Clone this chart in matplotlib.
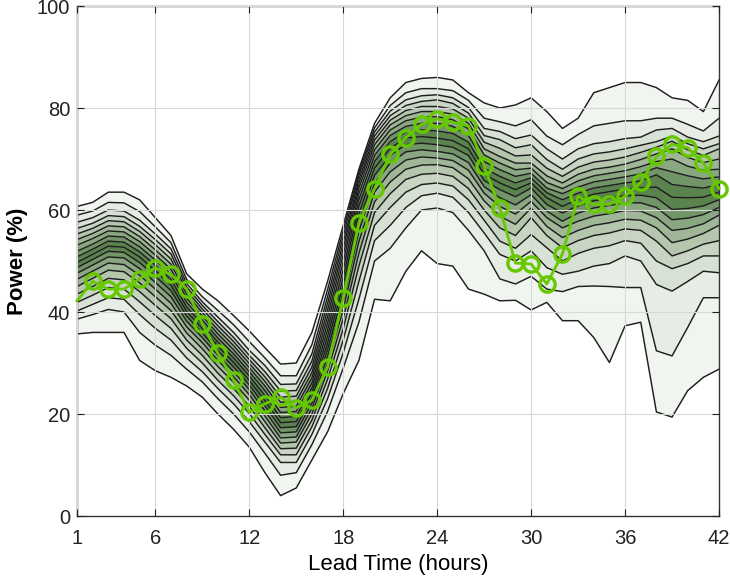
import matplotlib as mpl
mpl.use('Agg')

import matplotlib.pyplot as plt
import numpy as np

# lead times (hours)
lead_hours = list(range(1, 43))

# quantile levels of the fan lines
quantile_levels = [5, 10, 15, 20, 25, 30, 35, 40, 45, 50, 55, 60, 65, 70, 75, 80, 85, 90, 95]

# forecast quantiles, one row per lead hour (q05 ... q95), power in %
fan_rows = [
  [35.7, 38.6, 40.2, 41.9, 43.5, 45.0, 46.4, 47.6, 48.7, 49.7, 50.8, 51.9, 53.1, 54.2, 55.3, 56.4, 57.6, 59.0, 60.7],
  [36.0, 39.5, 41.5, 43.3, 45.0, 46.6, 48.0, 49.2, 50.3, 51.3, 52.3, 53.3, 54.4, 55.4, 56.4, 57.4, 58.5, 59.8, 61.5],
  [36.0, 40.5, 42.8, 44.8, 46.6, 48.2, 49.6, 50.8, 51.9, 52.9, 53.9, 54.9, 55.9, 56.9, 57.9, 58.9, 60.0, 61.5, 63.5],
  [36.0, 40.0, 42.5, 44.5, 46.3, 47.9, 49.3, 50.6, 51.7, 52.7, 53.7, 54.7, 55.7, 56.7, 57.7, 58.7, 59.8, 61.4, 63.5],
  [30.5, 36.0, 39.5, 42.0, 44.0, 45.7, 47.2, 48.5, 49.7, 50.8, 51.8, 52.8, 53.8, 54.8, 55.8, 56.8, 58.0, 59.7, 62.0],
  [28.5, 33.5, 36.8, 39.3, 41.3, 43.0, 44.5, 45.8, 47.0, 48.1, 49.2, 50.2, 51.2, 52.2, 53.2, 54.2, 55.3, 56.7, 58.5],
  [27.2, 31.5, 34.5, 36.8, 38.7, 40.3, 41.7, 43.0, 44.2, 45.3, 46.4, 47.4, 48.4, 49.4, 50.4, 51.4, 52.4, 53.6, 55.0],
  [25.5, 28.8, 31.0, 32.9, 34.5, 35.9, 37.1, 38.2, 39.2, 40.1, 41.0, 41.9, 42.7, 43.5, 44.2, 44.9, 45.6, 46.4, 47.5],
  [23.3, 26.3, 28.3, 30.0, 31.5, 32.8, 34.0, 35.0, 35.9, 36.8, 37.6, 38.4, 39.2, 39.9, 40.6, 41.3, 42.0, 43.0, 44.5],
  [20.0, 23.0, 25.0, 26.6, 28.0, 29.3, 30.5, 31.5, 32.4, 33.3, 34.1, 34.9, 35.7, 36.5, 37.3, 38.1, 39.0, 40.3, 42.2],
  [17.0, 20.0, 22.0, 23.6, 25.0, 26.2, 27.3, 28.3, 29.2, 30.1, 31.0, 31.8, 32.6, 33.4, 34.2, 35.0, 36.0, 37.5, 39.3],
  [13.5, 16.5, 18.5, 20.1, 21.5, 22.7, 23.8, 24.8, 25.7, 26.6, 27.5, 28.3, 29.1, 29.9, 30.7, 31.5, 32.5, 34.2, 36.3],
  [8.5, 12.3, 14.5, 16.0, 17.3, 18.5, 19.6, 20.6, 21.6, 22.6, 23.6, 24.6, 25.5, 26.4, 27.3, 28.3, 29.5, 31.0, 33.0],
  [4.0, 8.0, 10.5, 12.0, 13.2, 14.3, 15.3, 16.3, 17.3, 18.3, 19.3, 20.3, 21.3, 22.3, 23.3, 24.5, 25.8, 27.5, 29.8],
  [5.5, 8.5, 10.5, 12.0, 13.3, 14.5, 15.5, 16.5, 17.5, 18.5, 19.5, 20.5, 21.5, 22.5, 23.5, 24.6, 25.9, 27.5, 30.0],
  [11.0, 14.0, 16.0, 17.5, 18.8, 20.0, 21.1, 22.1, 23.1, 24.1, 25.1, 26.1, 27.1, 28.1, 29.2, 30.4, 31.8, 33.6, 36.0],
  [16.5, 20.5, 23.0, 25.0, 26.8, 28.4, 29.9, 31.3, 32.6, 33.9, 35.2, 36.5, 37.8, 39.1, 40.4, 41.7, 43.0, 44.4, 46.0],
  [24.0, 29.0, 32.0, 34.5, 36.7, 38.7, 40.5, 42.2, 43.8, 45.3, 46.8, 48.3, 49.8, 51.2, 52.5, 53.7, 54.9, 56.0, 57.0],
  [30.5, 38.0, 42.5, 46.0, 49.0, 51.5, 53.8, 55.8, 57.6, 59.2, 60.7, 62.0, 63.2, 64.3, 65.2, 66.0, 66.8, 67.4, 68.0],
  [42.5, 50.0, 54.0, 57.0, 59.5, 61.6, 63.5, 65.2, 66.8, 68.2, 69.5, 70.7, 71.8, 72.8, 73.7, 74.5, 75.3, 76.1, 77.0],
  [42.2, 52.5, 57.0, 60.5, 63.2, 65.5, 67.5, 69.2, 70.7, 72.1, 73.4, 74.6, 75.7, 76.7, 77.6, 78.5, 79.4, 80.5, 82.0],
  [48.0, 56.5, 60.5, 63.5, 66.0, 68.0, 69.8, 71.4, 72.8, 74.1, 75.3, 76.4, 77.5, 78.5, 79.5, 80.5, 81.6, 83.0, 85.0],
  [52.0, 60.0, 62.8, 65.0, 67.0, 68.8, 70.4, 71.8, 73.1, 74.4, 75.7, 77.0, 78.2, 79.3, 80.3, 81.3, 82.4, 83.8, 85.8],
  [49.5, 60.4, 63.3, 65.3, 67.2, 68.9, 70.2, 71.5, 72.8, 74.1, 75.5, 77.0, 78.3, 79.3, 80.3, 81.6, 82.6, 83.8, 86.0],
  [49.0, 59.5, 62.5, 64.7, 66.6, 68.3, 69.7, 71.0, 72.3, 73.6, 75.0, 76.4, 77.7, 78.8, 79.8, 80.9, 82.0, 83.4, 85.5],
  [44.5, 56.0, 59.5, 62.0, 64.2, 66.1, 67.8, 69.3, 70.7, 72.0, 73.3, 74.6, 75.9, 77.0, 78.0, 79.0, 80.1, 81.5, 83.0],
  [43.5, 52.0, 55.5, 58.0, 60.0, 61.8, 63.3, 64.6, 65.8, 67.0, 68.2, 69.5, 70.8, 72.0, 73.3, 74.6, 76.0, 78.0, 81.0],
  [42.2, 46.5, 51.3, 53.9, 56.5, 58.8, 60.7, 62.4, 64.0, 65.3, 66.6, 67.9, 69.2, 70.5, 72.1, 73.8, 75.4, 77.3, 80.0],
  [42.3, 45.5, 50.0, 52.5, 55.0, 57.2, 59.2, 61.0, 62.6, 64.0, 65.3, 66.6, 67.9, 69.2, 70.6, 72.2, 74.0, 76.5, 80.6],
  [40.4, 47.0, 52.0, 55.2, 58.5, 60.4, 61.7, 63.0, 64.3, 65.3, 66.3, 67.2, 68.2, 69.2, 70.8, 72.8, 74.7, 77.7, 82.0],
  [41.9, 44.5, 48.7, 52.6, 55.0, 56.8, 58.5, 59.8, 61.1, 62.4, 63.4, 64.3, 65.4, 66.7, 68.2, 69.9, 72.0, 74.5, 79.3],
  [38.3, 44.0, 47.4, 50.0, 52.6, 54.6, 56.5, 57.8, 59.4, 60.7, 62.0, 63.2, 64.2, 65.3, 66.6, 68.0, 70.0, 72.8, 76.0],
  [38.3, 45.0, 48.0, 51.5, 54.0, 56.0, 57.8, 59.4, 60.8, 62.1, 63.3, 64.5, 65.7, 67.0, 68.4, 70.0, 72.0, 74.8, 78.0],
  [35.0, 45.1, 49.0, 52.5, 55.0, 57.0, 58.8, 60.4, 61.8, 63.1, 64.3, 65.5, 66.7, 68.0, 69.4, 71.0, 73.0, 76.5, 83.0],
  [30.1, 45.0, 49.5, 53.0, 55.5, 57.5, 59.3, 60.9, 62.3, 63.6, 64.8, 66.0, 67.2, 68.4, 69.8, 71.4, 73.4, 77.0, 84.0],
  [37.3, 44.8, 51.0, 54.0, 56.3, 58.2, 59.9, 61.4, 62.8, 64.1, 65.3, 66.5, 67.7, 69.0, 70.4, 72.0, 74.0, 77.5, 85.0],
  [38.0, 44.8, 50.0, 53.5, 56.0, 58.0, 59.8, 61.4, 62.9, 64.3, 65.7, 67.1, 68.5, 69.9, 71.3, 72.7, 74.3, 77.5, 85.0],
  [20.4, 32.4, 45.4, 50.0, 53.9, 56.5, 58.5, 60.5, 62.4, 64.5, 66.9, 68.3, 69.5, 71.0, 72.3, 73.4, 75.7, 78.0, 84.0],
  [19.4, 31.4, 44.1, 48.5, 51.0, 53.6, 56.0, 58.1, 60.1, 62.5, 65.0, 67.5, 70.0, 72.0, 73.5, 74.5, 76.0, 78.0, 82.0],
  [24.6, 37.0, 46.0, 49.5, 52.0, 54.3, 56.4, 58.4, 60.3, 62.4, 64.6, 66.7, 68.6, 70.3, 71.8, 73.0, 74.3, 76.8, 81.5],
  [27.2, 42.8, 48.0, 51.0, 53.3, 55.4, 57.3, 59.1, 60.8, 62.5, 64.3, 66.1, 67.8, 69.3, 70.7, 72.0, 73.4, 75.5, 79.3],
  [28.8, 42.8, 47.7, 51.0, 54.0, 57.0, 59.0, 60.5, 62.0, 63.5, 65.0, 66.5, 68.0, 70.0, 72.0, 73.0, 74.5, 78.0, 85.5],
]

# measured power (%)
observed = [42.2, 46.0, 44.5, 44.5, 46.5, 48.7, 47.4, 44.5, 37.7, 31.9,
            26.6, 20.3, 22.0, 23.3, 21.2, 22.7, 29.2, 42.8, 57.5, 64.2,
            70.9, 74.2, 76.8, 77.9, 77.2, 76.5, 68.6, 60.4, 49.6, 49.4,
            45.5, 51.4, 62.7, 61.1, 61.1, 62.7, 65.4, 70.5, 72.9, 72.2,
            69.2, 64.2]

x_ticks = [1, 6, 12, 18, 24, 30, 36, 42]
y_ticks = [0, 20, 40, 60, 80, 100]

light = np.array(mpl.colors.to_rgb("#f1f5ef"))
dark = np.array(mpl.colors.to_rgb("#4e7a40"))
obs_color = "#66c800"

plt.rcParams['font.family'] = ['Liberation Sans', 'DejaVu Sans']

fig = plt.figure(figsize=(7.3, 5.84), dpi=100)
ax = fig.add_axes([0.1055, 0.1164, 0.8795, 0.8733])

q = np.array(fan_rows).T
nb = len(quantile_levels) - 1
half = (nb - 1) / 2.0
for i in range(nb):
  level = 1 - abs(i - half) / half
  c = light + (dark - light) * level ** 1.3
  ax.fill_between(lead_hours, q[i], q[i + 1], color=c, linewidth=0, zorder=1)

for line in q:
  ax.plot(lead_hours, line, color="#1e1e1e", linewidth=1.05, zorder=2)

ax.plot(lead_hours, observed, color=obs_color, linewidth=2.0, marker='o',
        markersize=11, markerfacecolor='none', markeredgewidth=2.4,
        markevery=list(range(1, len(observed))), zorder=4, clip_on=False)

ax.set_xlim(1, 42)
ax.set_ylim(0, 100)
ax.set_xticks(x_ticks)
ax.set_yticks(y_ticks)
ax.grid(True, color="#d8d8d8", linewidth=0.8, zorder=3)
ax.set_axisbelow(False)
ax.tick_params(direction='in', top=True, right=True, length=5, width=0.8,
               labelsize=14.5, colors="#222222")
ax.tick_params(axis='x', pad=9)
ax.tick_params(axis='y', pad=5)
for s in ax.spines.values():
  s.set_color("#333333")
  s.set_linewidth(1.0)

ax.set_xlabel("Lead Time (hours)", fontsize=16, labelpad=5)
ax.set_ylabel("Power (%)", fontsize=16, fontweight='bold', labelpad=6)

plt.savefig("out.png", dpi=100)
plt.close()
